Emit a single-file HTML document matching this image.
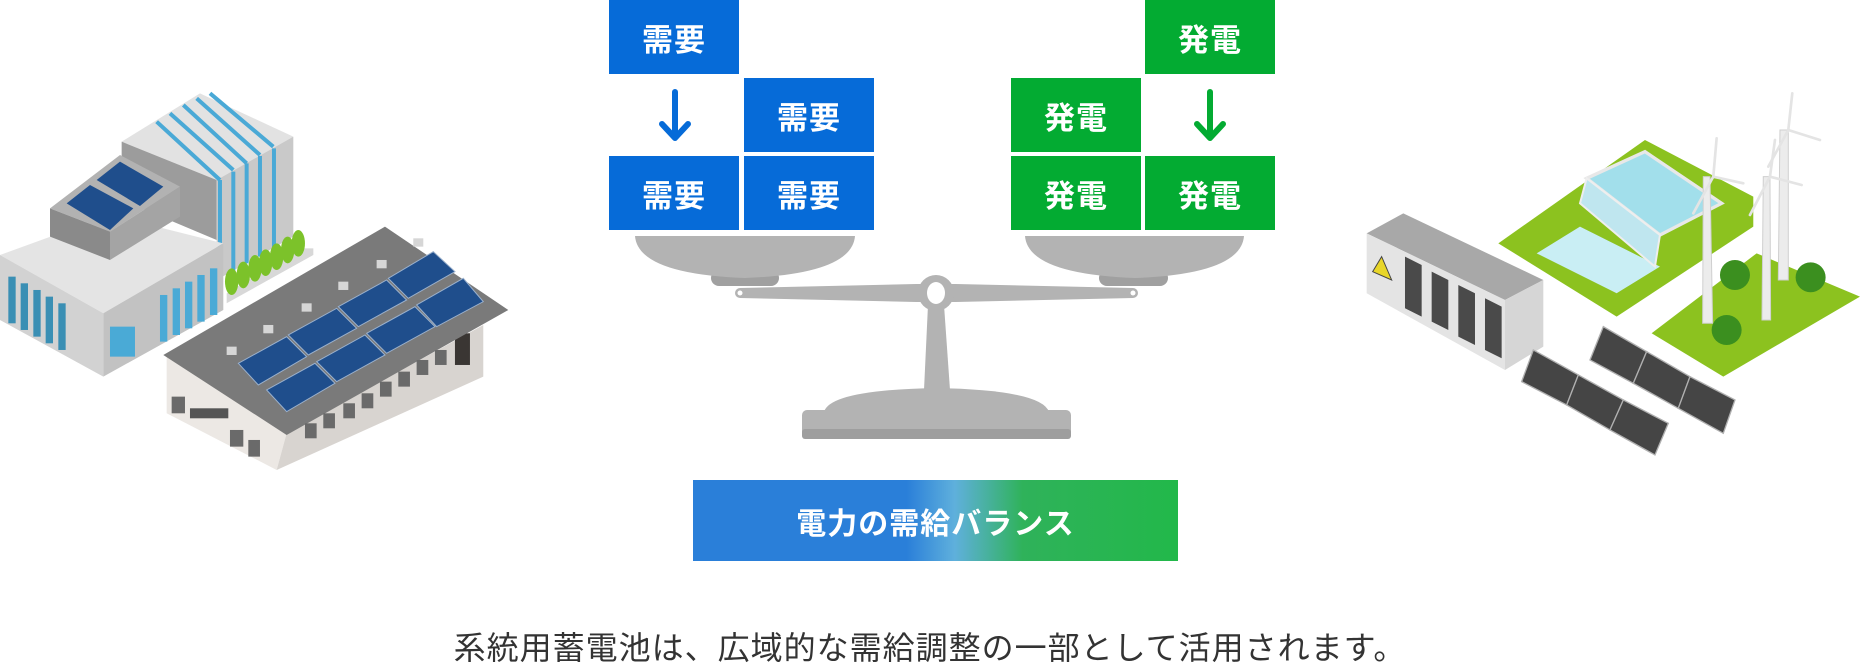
<!DOCTYPE html>
<html><head><meta charset="utf-8"><style>
html,body{margin:0;padding:0;background:#fff;}
body{width:1860px;height:670px;position:relative;overflow:hidden;font-family:"Liberation Sans","Noto Sans CJK JP",sans-serif;}
.b{position:absolute;width:130px;height:74px;color:#fff;font-weight:bold;font-size:31px;display:flex;align-items:center;justify-content:center;letter-spacing:1px;}
.bl{background:#066bd8;}
.gr{background:#03ab32;}
.btn{position:absolute;left:693px;top:480px;width:485px;height:81px;background:linear-gradient(90deg,#2a7fd9 0%,#2a7fd9 44%,#5fb0dc 54%,#2fb25a 68%,#22b84a 100%);color:#fff;font-size:30px;font-weight:bold;display:flex;align-items:center;justify-content:center;letter-spacing:1px;}
.cap{position:absolute;left:0;width:1860px;top:628px;text-align:center;font-size:32px;color:#333;letter-spacing:1px;line-height:40px;}
svg{position:absolute;left:0;top:0;}
</style></head><body>
<svg width="1860" height="670" viewBox="0 0 1860 670">
<g transform="translate(0,80) scale(0.3333)">
 <polygon points="365,185 600,40 880,170 650,300" fill="#e2e2e2"/>
 <polygon points="365,185 650,300 650,480 365,360" fill="#9c9c9c"/>
 <polygon points="650,300 880,170 880,470 650,600" fill="#c9c9c9"/>
 <g stroke="#4aa9d6" stroke-width="12">
  <line x1="470" y1="125" x2="660" y2="300"/><line x1="510" y1="100" x2="700" y2="270"/><line x1="550" y1="75" x2="740" y2="250"/><line x1="590" y1="55" x2="780" y2="225"/><line x1="630" y1="40" x2="820" y2="200"/>
  <line x1="660" y1="300" x2="660" y2="595"/><line x1="700" y1="275" x2="700" y2="575"/><line x1="740" y1="250" x2="740" y2="550"/><line x1="780" y1="228" x2="780" y2="530"/><line x1="822" y1="205" x2="822" y2="505"/>
 </g>
 <polygon points="0,525 330,405 670,490 310,700" fill="#e4e4e4"/>
 <polygon points="0,525 310,700 310,890 0,720" fill="#d2d2d2"/>
 <polygon points="310,700 670,490 670,690 310,890" fill="#c2c2c2"/>
 <g fill="#3a8fb4"><rect x="25" y="590" width="22" height="140"/><rect x="62" y="610" width="22" height="140"/><rect x="100" y="630" width="22" height="140"/><rect x="137" y="650" width="22" height="140"/><rect x="175" y="670" width="22" height="140"/></g>
 <g fill="#4aaad6"><rect x="480" y="645" width="22" height="140"/><rect x="518" y="625" width="22" height="140"/><rect x="555" y="605" width="22" height="140"/><rect x="592" y="585" width="22" height="140"/><rect x="630" y="565" width="22" height="140"/><rect x="330" y="740" width="75" height="90"/></g>
 <polygon points="150,385 360,225 540,320 330,455" fill="#b2b2b2"/>
 <polygon points="150,385 330,455 330,540 150,470" fill="#8a8a8a"/>
 <polygon points="330,455 540,320 540,410 330,540" fill="#a4a4a4"/>
 <polygon points="200,370 270,315 400,385 330,450" fill="#1f4e8c"/>
 <polygon points="290,300 360,245 490,320 420,378" fill="#1f4e8c"/>
 <polygon points="680,640 900,505 940,505 940,525 680,670" fill="#d8d8d8"/>
 <g fill="#7cc22a"><ellipse cx="695" cy="605" rx="20" ry="40"/><ellipse cx="730" cy="585" rx="20" ry="40"/><ellipse cx="765" cy="565" rx="20" ry="40"/><ellipse cx="797" cy="548" rx="20" ry="40"/><ellipse cx="830" cy="530" rx="20" ry="40"/><ellipse cx="863" cy="510" rx="20" ry="40"/><ellipse cx="895" cy="490" rx="20" ry="40"/></g>
 <polygon points="500,830 650,835 860,1060 830,1170 500,1000" fill="#ece8e4"/>
 <polygon points="860,1060 1450,735 1450,890 830,1170" fill="#d8d4d0"/>
 <rect x="1365" y="760" width="45" height="95" fill="#3a3633"/>
 <polygon points="490,825 1155,440 1525,690 860,1065" fill="#7a7a7a"/>
 <g fill="#1f4e8c" stroke="#9ab0cc" stroke-width="3">
  <polygon points="715,850 860,770 920,830 775,915"/><polygon points="865,765 1010,685 1070,745 925,825"/><polygon points="1015,680 1160,600 1220,660 1075,740"/><polygon points="1165,595 1300,515 1365,575 1225,655"/>
  <polygon points="800,930 945,850 1005,910 860,995"/><polygon points="950,845 1095,765 1155,825 1010,905"/><polygon points="1100,760 1245,680 1305,740 1160,820"/><polygon points="1250,675 1390,595 1450,665 1310,740"/>
 </g>
 <g fill="#d6d6d6"><rect x="680" y="800" width="30" height="25"/><rect x="790" y="735" width="30" height="25"/><rect x="905" y="670" width="30" height="25"/><rect x="1015" y="605" width="30" height="25"/><rect x="1130" y="540" width="30" height="25"/><rect x="1240" y="475" width="30" height="25"/></g>
 <g fill="#6a6a6a"><rect x="515" y="950" width="40" height="50"/><rect x="690" y="1050" width="40" height="50"/><rect x="745" y="1080" width="35" height="50"/><rect x="915" y="1030" width="35" height="45"/><rect x="970" y="1000" width="35" height="45"/><rect x="1030" y="970" width="35" height="45"/><rect x="1085" y="940" width="35" height="45"/><rect x="1140" y="905" width="35" height="45"/><rect x="1195" y="875" width="35" height="45"/><rect x="1250" y="840" width="35" height="45"/><rect x="1305" y="810" width="35" height="45"/></g>
 <rect x="570" y="985" width="115" height="30" fill="#555"/>
</g>
<g transform="translate(1340,80) scale(0.3333)">
 <polygon points="475,490 915,180 1240,350 1240,440 830,710" fill="#8cc21f"/>
 <polygon points="740,295 915,215 1145,370 960,465" fill="#a2dfeb" stroke="#e8e8e8" stroke-width="10"/>
 <polygon points="590,520 720,440 960,560 830,640" fill="#c9eef4"/>
 <polygon points="720,370 740,295 960,465 945,560" fill="#bfe6ef" stroke="#eee" stroke-width="6"/>
 <polygon points="935,760 1250,520 1560,650 1150,890" fill="#8cc21f"/>
 <g fill="#ececec" stroke="#cfcfcf" stroke-width="3">
  <polygon points="1090,290 1110,290 1118,730 1088,730"/>
  <polygon points="1270,290 1290,290 1292,720 1266,720"/>
  <polygon points="1320,150 1345,150 1345,600 1315,600"/>
 </g>
 <g stroke="#e4e4e4" stroke-width="8" stroke-linecap="round">
  <line x1="1120" y1="290" x2="1130" y2="175"/><line x1="1120" y1="290" x2="1210" y2="310"/><line x1="1120" y1="290" x2="1060" y2="400"/>
  <line x1="1290" y1="290" x2="1305" y2="180"/><line x1="1290" y1="290" x2="1385" y2="315"/><line x1="1290" y1="290" x2="1230" y2="405"/>
  <line x1="1345" y1="150" x2="1357" y2="40"/><line x1="1345" y1="150" x2="1440" y2="180"/><line x1="1345" y1="150" x2="1285" y2="260"/>
 </g>
 <g fill="#3b8f1f"><circle cx="1185" cy="585" r="45"/><circle cx="1412" cy="592" r="45"/><circle cx="1160" cy="750" r="45"/></g>
 <polygon points="80,460 190,400 610,600 495,660" fill="#a8a8a8"/>
 <polygon points="80,460 495,660 495,870 80,640" fill="#e4e4e4"/>
 <polygon points="495,660 610,600 610,800 495,870" fill="#d6d6d6"/>
 <g fill="#4a4a4a"><polygon points="195,530 245,555 245,710 195,685"/><polygon points="275,575 325,600 325,750 275,725"/><polygon points="355,615 405,640 405,795 355,770"/><polygon points="435,655 485,680 485,835 435,810"/></g>
 <polygon points="125,530 155,600 98,575" fill="#e8d629" stroke="#444" stroke-width="3"/>
 <g fill="#454545" stroke="#b0b0b0" stroke-width="4">
  <polygon points="545,905 580,810 715,885 680,975"/><polygon points="680,975 715,885 850,960 810,1050"/><polygon points="810,1050 850,960 985,1030 945,1125"/>
  <polygon points="750,840 790,740 920,815 880,910"/><polygon points="880,910 920,815 1050,890 1015,985"/><polygon points="1015,985 1050,890 1185,960 1150,1060"/>
 </g>
</g>
<g stroke="#066bd8" stroke-width="6" fill="none" stroke-linecap="round" stroke-linejoin="round"><line x1="675" y1="92" x2="675" y2="137"/><polyline points="662,124 675,138 688,124"/></g>
<g stroke="#03ab32" stroke-width="6" fill="none" stroke-linecap="round" stroke-linejoin="round"><line x1="1210" y1="92" x2="1210" y2="137"/><polyline points="1197,124 1210,138 1223,124"/></g>
<g fill="#b3b3b3">
 <rect x="711" y="270" width="68" height="16" rx="8" fill="#a0a0a0"/>
 <rect x="1099" y="270" width="69" height="16" rx="8" fill="#a0a0a0"/>
 <path d="M635,236 L855,236 Q852,274 745,278 Q638,274 635,236 Z"/>
 <path d="M1025,236 L1244,236 Q1241,274 1135,278 Q1028,274 1025,236 Z"/>
 <polygon points="740,288 916,284 956,284 1133,288 1133,298 956,302 916,302 740,298"/>
 <circle cx="740" cy="293" r="5"/><circle cx="1133" cy="293" r="5"/>
 <polygon points="928,305 944,305 950,390 924,390"/>
 <circle cx="936" cy="293" r="18"/>
 <path d="M824,412 Q830,390 936,388 Q1042,390 1049,412 Z"/>
 <rect x="802" y="410" width="269" height="29" rx="5"/>
 <rect x="802" y="429" width="269" height="10" rx="3" fill="#9e9e9e"/>
</g>
<g fill="#fff"><ellipse cx="936" cy="293" rx="9" ry="11"/><circle cx="740" cy="293" r="2.5"/><circle cx="1133" cy="293" r="2.5"/></g>
</svg>
<div class="b bl" style="left:609px;top:0;">需要</div>
<div class="b bl" style="left:744px;top:78px;">需要</div>
<div class="b bl" style="left:609px;top:156px;">需要</div>
<div class="b bl" style="left:744px;top:156px;">需要</div>
<div class="b gr" style="left:1145px;top:0;">発電</div>
<div class="b gr" style="left:1011px;top:78px;">発電</div>
<div class="b gr" style="left:1011px;top:156px;">発電</div>
<div class="b gr" style="left:1145px;top:156px;">発電</div>
<div class="btn">電力の需給バランス</div>
<div class="cap">系統用蓄電池は、広域的な需給調整の一部として活用されます。</div>
</body></html>
